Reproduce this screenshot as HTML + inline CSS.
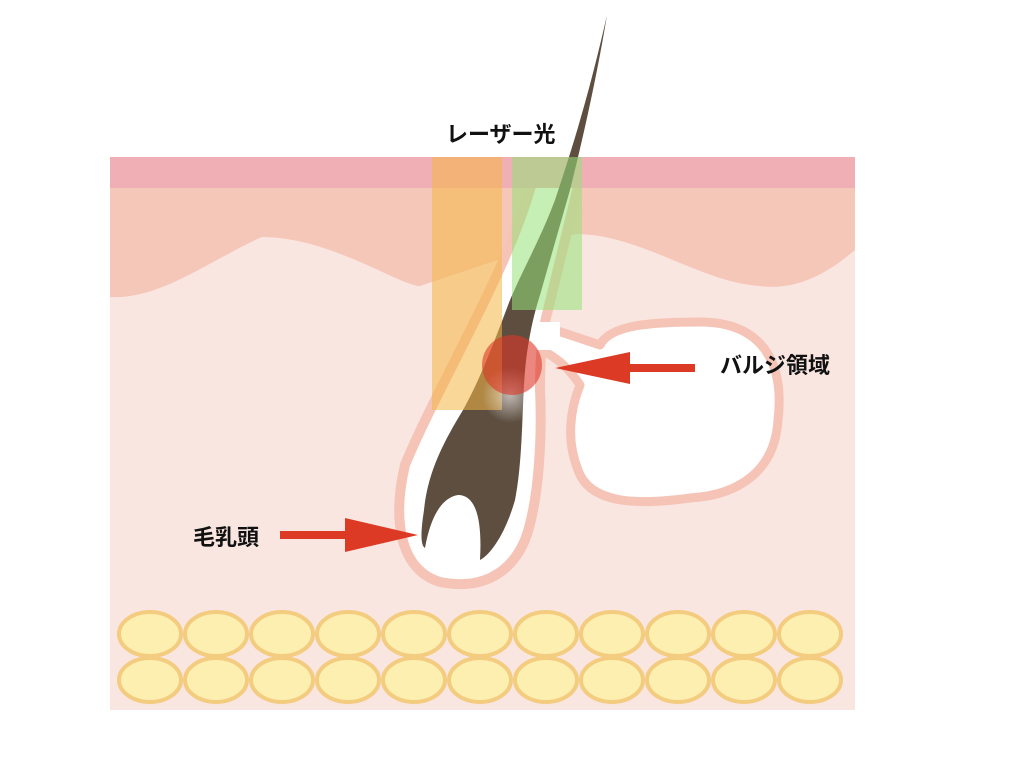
<!DOCTYPE html>
<html><head><meta charset="utf-8"><style>
html,body{margin:0;padding:0;background:#fff;width:1024px;height:768px;overflow:hidden}
svg{display:block}
text{font-family:"Liberation Sans","Noto Sans CJK JP",sans-serif;font-weight:bold;font-size:22px;fill:#111}
</style></head><body>
<svg width="1024" height="768" viewBox="0 0 1024 768">
<defs>
<radialGradient id="g"><stop offset="0" stop-color="#fff" stop-opacity="0.6"/><stop offset="1" stop-color="#fff" stop-opacity="0"/></radialGradient>
</defs>
<rect x="110" y="157" width="745" height="553" fill="#fae6e1"/>
<path d="M110 188 H855 V250 C820 280 790 290 759 286 C700 282 640 234 575 234 L420 286 C400 286 330 237 262 237 C210 260 160 300 110 297 Z" fill="#f5c7b9"/>
<!-- sebaceous gland -->
<path d="M540 325 L600 345 C610 325 650 322 700 322 C760 322 785 360 778 420 C775 470 740 495 690 498 C640 505 590 505 578 470 C566 440 570 410 580 385 C570 370 560 360 545 352 Z" fill="#fff" stroke="#f5c4b6" stroke-width="9" stroke-linejoin="round"/>
<!-- follicle -->
<path d="M535 170 C515 260 440 380 405 465 C392 520 400 570 440 582 C480 590 510 575 525 540 C540 500 542 430 540 390 C540 360 542 330 548 310 C560 260 570 220 582 170 Z" fill="#fff" stroke="#f5c4b6" stroke-width="10" stroke-linejoin="round"/>
<rect x="530" y="322" width="30" height="28" fill="#fff"/>
<rect x="110" y="157" width="745" height="31" fill="#f0aeb5"/>
<!-- hair -->
<path d="M607 15 C590 90 575 140 555 200 C540 240 525 265 510 300 C495 340 480 380 463 410 C445 440 428 470 424 510 C421 530 420 545 425 548 C430 520 440 498 458 495 C478 495 482 525 480 560 C490 555 505 535 515 500 C522 465 522 420 524 385 C526 350 532 320 540 295 C550 260 560 225 570 190 C585 130 598 70 607 15 Z" fill="#5d4e40"/>
<!-- lasers -->
<rect x="432" y="157" width="70" height="253" fill="rgba(244,182,70,0.55)"/>
<rect x="512" y="157" width="70" height="153" fill="rgba(150,225,120,0.55)"/>
<circle cx="510" cy="395" r="28" fill="url(#g)"/>
<circle cx="512" cy="365" r="30" fill="rgba(222,55,40,0.6)"/>
<!-- arrows -->
<path d="M695 364 H630 V352 L555 368 L630 384 V372 H695 Z" fill="#dc3a25"/>
<path d="M280 531 H345 V518 L418 535 L345 552 V539 H280 Z" fill="#dc3a25"/>
<!-- fat -->
<g fill="#fdefb0" stroke="#f3cc80" stroke-width="4">
<ellipse cx="150" cy="634" rx="31" ry="22"/><ellipse cx="216" cy="634" rx="31" ry="22"/><ellipse cx="282" cy="634" rx="31" ry="22"/><ellipse cx="348" cy="634" rx="31" ry="22"/><ellipse cx="414" cy="634" rx="31" ry="22"/><ellipse cx="480" cy="634" rx="31" ry="22"/><ellipse cx="546" cy="634" rx="31" ry="22"/><ellipse cx="612" cy="634" rx="31" ry="22"/><ellipse cx="678" cy="634" rx="31" ry="22"/><ellipse cx="744" cy="634" rx="31" ry="22"/><ellipse cx="810" cy="634" rx="31" ry="22"/>
<ellipse cx="150" cy="680" rx="31" ry="22"/><ellipse cx="216" cy="680" rx="31" ry="22"/><ellipse cx="282" cy="680" rx="31" ry="22"/><ellipse cx="348" cy="680" rx="31" ry="22"/><ellipse cx="414" cy="680" rx="31" ry="22"/><ellipse cx="480" cy="680" rx="31" ry="22"/><ellipse cx="546" cy="680" rx="31" ry="22"/><ellipse cx="612" cy="680" rx="31" ry="22"/><ellipse cx="678" cy="680" rx="31" ry="22"/><ellipse cx="744" cy="680" rx="31" ry="22"/><ellipse cx="810" cy="680" rx="31" ry="22"/>
</g>
<text x="446" y="142">レーザー光</text>
<text x="720" y="373">バルジ領域</text>
<text x="193" y="545">毛乳頭</text>
</svg>
</body></html>
